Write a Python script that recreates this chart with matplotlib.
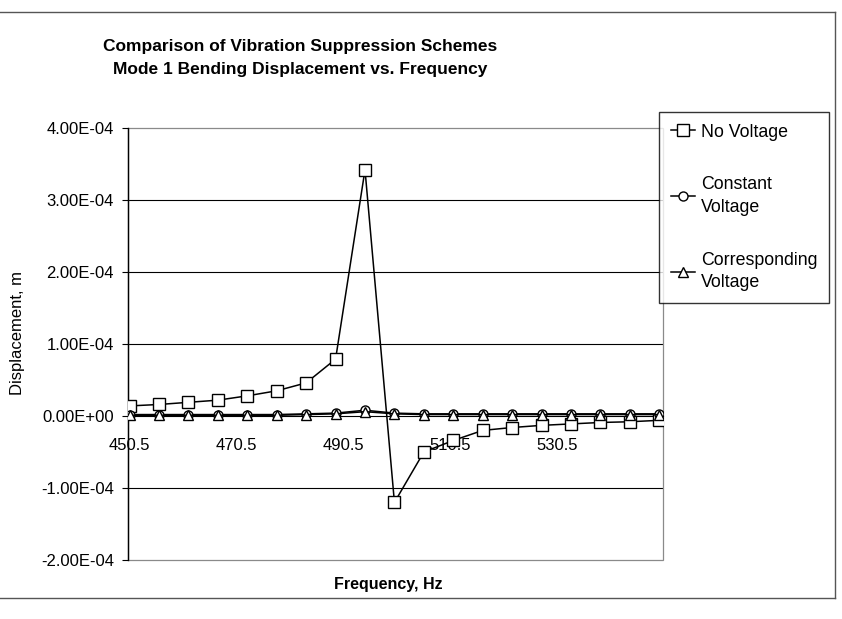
import matplotlib.pyplot as plt
from matplotlib.patches import Rectangle
from matplotlib.lines import Line2D
from matplotlib.ticker import FuncFormatter

plt.rcParams['font.family'] = ['Liberation Sans', 'DejaVu Sans']

# Frequencies (Hz), 5.5 Hz steps
freq = [450.5, 456.0, 461.5, 467.0, 472.5, 478.0, 483.5, 489.0, 494.5, 500.0,
        505.5, 511.0, 516.5, 522.0, 527.5, 533.0, 538.5, 544.0, 549.5]

# Displacement (m)
no_voltage = [1.4e-5, 1.6e-5, 1.9e-5, 2.2e-5, 2.8e-5, 3.5e-5, 4.6e-5, 7.9e-5, 3.42e-4, -1.2e-4,
              -5.0e-5, -3.4e-5, -2.0e-5, -1.6e-5, -1.3e-5, -1.1e-5, -9e-6, -8e-6, -6e-6]
constant_voltage = [2e-6, 2e-6, 2e-6, 2e-6, 2e-6, 2e-6, 3e-6, 4e-6, 8e-6, 4e-6,
                    3e-6, 3e-6, 3e-6, 3e-6, 3e-6, 3e-6, 3e-6, 3e-6, 3e-6]
corresponding_voltage = [1e-6, 1e-6, 1e-6, 1e-6, 1e-6, 1e-6, 2e-6, 3e-6, 6e-6, 3e-6,
                         2e-6, 2e-6, 2e-6, 2e-6, 2e-6, 2e-6, 2e-6, 2e-6, 2e-6]

x_ticks = [450.5, 470.5, 490.5, 510.5, 530.5]
y_ticks = [-2e-4, -1e-4, 0.0, 1e-4, 2e-4, 3e-4, 4e-4]

W, H = 842, 619
fig = plt.figure(figsize=(W / 100, H / 100), dpi=100)
ax = fig.add_axes([128 / W, 1 - 560 / H, (663 - 128) / W, (560 - 128) / H])

# gridlines (inside only), plot area border
for v in y_ticks[1:-1]:
    if v != 0:
        ax.axhline(v, color='black', lw=0.8, zorder=1)
ax.add_patch(Rectangle((0, 0), 1, 1, transform=ax.transAxes, fill=False,
                       ec='#8a8a8a', lw=0.9, zorder=1, clip_on=False))

mk = dict(color='black', lw=1.1, mfc='white', mec='black', mew=1.0, zorder=3)
l1, = ax.plot(freq, no_voltage, marker='s', ms=8, label='No Voltage', **mk)
l2, = ax.plot(freq, constant_voltage, marker='o', ms=6.5, label='Constant\nVoltage', **mk)
l3, = ax.plot(freq, corresponding_voltage, marker='^', ms=6.5, label='Corresponding\nVoltage', **mk)

ax.set_xlim(450.2, 550.2)
ax.set_ylim(-2e-4, 4e-4)
ax.set_yticks(y_ticks)
ax.yaxis.set_major_formatter(FuncFormatter(lambda v, p: f"{v:.2E}"))
ax.set_xticks(x_ticks)
ax.set_xticklabels([f"{v:.1f}" for v in x_ticks])

for s in ['top', 'right']:
    ax.spines[s].set_visible(False)
ax.spines['bottom'].set_position(('data', 0))
ax.spines['bottom'].set_linewidth(0.8)
ax.spines['left'].set_linewidth(1.0)
ax.tick_params(axis='x', length=0, pad=16, labelsize=12)
ax.tick_params(axis='y', length=4, direction='out', pad=6, labelsize=12)

fig.text(300 / W, 1 - 58 / H, "Comparison of Vibration Suppression Schemes\nMode 1 Bending Displacement vs. Frequency",
         ha='center', va='center', fontsize=12.5, fontweight='bold', linespacing=1.65)
fig.text(18 / W, 1 - 333 / H, "Displacement, m", rotation=90, ha='center', va='center', fontsize=12)
fig.text(388 / W, 1 - 585 / H, "Frequency, Hz", ha='center', va='center', fontsize=11.5, fontweight='bold')

leg = fig.legend(handles=[l1, l2, l3], loc='upper left', bbox_to_anchor=(659 / W, 1 - 112 / H),
                 borderaxespad=0, frameon=True, fancybox=False, edgecolor='black', fontsize=12.8,
                 handlelength=1.4, handletextpad=0.3, labelspacing=2.0, borderpad=0.65)
leg.get_frame().set_linewidth(1.0)
for t in leg.get_texts():
    t.set_linespacing(1.45)

# chart area border (top, right, bottom)
border = dict(color='#555555', lw=1.0, transform=fig.transFigure)
fig.add_artist(Line2D([0, 835 / W], [1 - 12 / H, 1 - 12 / H], **border))
fig.add_artist(Line2D([835 / W, 835 / W], [1 - 12 / H, 1 - 598 / H], **border))
fig.add_artist(Line2D([0, 835 / W], [1 - 598 / H, 1 - 598 / H], **border))

fig.savefig('out.png', dpi=100)
